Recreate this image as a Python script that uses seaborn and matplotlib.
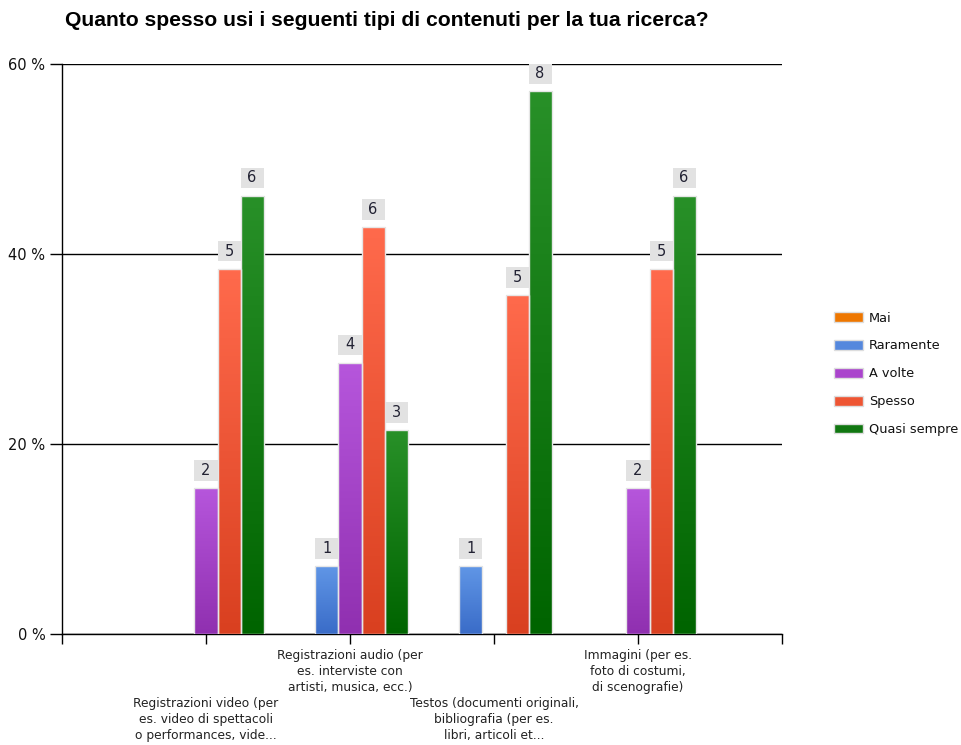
import numpy as np
import pandas as pd
import seaborn as sns
import matplotlib.pyplot as plt
from matplotlib.colors import LinearSegmentedColormap
from matplotlib.patches import Rectangle, Patch

# Data
categorie = [
    "Registrazioni video (per\nes. video di spettacoli\no performances, vide...",
    "Registrazioni audio (per\nes. interviste con\nartisti, musica, ecc.)",
    "Testos (documenti originali,\nbibliografia (per es.\nlibri, articoli et...",
    "Immagini (per es.\nfoto di costumi,\ndi scenografie)",
]
frequenze = ["Mai", "Raramente", "A volte", "Spesso", "Quasi sempre"]
mai = [0, 0, 0, 0]
raramente = [0, 1, 1, 0]
a_volte = [2, 4, 0, 2]
spesso = [5, 6, 5, 5]
quasi_sempre = [6, 3, 8, 6]

risposte = [mai, raramente, a_volte, spesso, quasi_sempre]
totali = [sum(r[j] for r in risposte) for j in range(len(categorie))]

rows = []
for f, vals in zip(frequenze, risposte):
    for j, c in enumerate(categorie):
        rows.append({"categoria": c, "frequenza": f, "n": vals[j],
                     "percentuale": vals[j] / totali[j] * 100})
df = pd.DataFrame(rows)

colori = ["#ee7700", "#5588dd", "#aa44cc", "#ee5533", "#117711"]
# gradient (top, bottom) per series
gradienti = [
    ("#ff9a30", "#dd6600"),
    ("#6096e6", "#3a6cc8"),
    ("#b656dc", "#9030b0"),
    ("#ff6a4c", "#d94020"),
    ("#289028", "#006400"),
]

sns.set_style("white")
plt.rcParams["font.family"] = ["DejaVu Sans"]

fig = plt.figure(figsize=(9.62, 7.45), dpi=100)
ax = fig.add_axes([62 / 962, 1 - 634 / 745, 720 / 962, 570 / 745])

sns.barplot(data=df, x="categoria", y="percentuale", hue="frequenza",
            hue_order=frequenze, palette=colori, errorbar=None, width=0.8,
            edgecolor="#e6e6e6", linewidth=1, legend=False, ax=ax, zorder=3)

ax.set_xlim(-1, 4)
ax.set_ylim(0, 60)

# gradients and value boxes
for i, cont in enumerate(ax.containers):
    cmap = LinearSegmentedColormap.from_list("g", [gradienti[i][1], gradienti[i][0]])
    for j, bar in enumerate(cont):
        h = bar.get_height()
        if h <= 0:
            bar.set_visible(False)
            continue
        x0 = bar.get_x()
        w = bar.get_width()
        grad = np.linspace(0, 1, 100).reshape(-1, 1)
        im = ax.imshow(grad, extent=[x0, x0 + w, 0, h], origin="lower",
                       aspect="auto", cmap=cmap, zorder=2.9)
        im.set_clip_path(bar)
        bar.set_facecolor("none")
        ax.add_patch(Rectangle((x0, h + 0.75), w, 2.2, facecolor="#e2e2e2",
                               edgecolor="none", zorder=4))
        ax.text(x0 + w / 2, h + 0.75 + 1.1, str(risposte[i][j]), ha="center",
                va="center", fontsize=10.5, color="#222233", zorder=5)

ax.set_xlim(-1, 4)
ax.set_ylim(0, 60)

# axes styling
ax.set_yticks([0, 20, 40, 60])
ax.set_yticklabels(["0 %", "20 %", "40 %", "60 %"], fontsize=10.5, color="#111111")
ax.yaxis.grid(True, color="#000000", linewidth=1)
ax.set_axisbelow(True)
ax.set_xticks([-1, 0, 1, 2, 3, 4])
ax.set_xticklabels([""] + categorie + [""], fontsize=8.8, color="#222222",
                   linespacing=1.3)
ax.tick_params(axis="x", length=7, width=1, color="#000000", direction="out",
               bottom=True, pad=3.5)
ax.tick_params(axis="y", length=9, width=1, color="#000000", direction="out",
               left=True, pad=3)
for k in (1, 3):
    ax.xaxis.get_major_ticks()[k].set_pad(38.5)
for s in ["top", "right"]:
    ax.spines[s].set_visible(False)
for s in ["left", "bottom"]:
    ax.spines[s].set_color("#000000")
    ax.spines[s].set_linewidth(1)
ax.set_xlabel("")
ax.set_ylabel("")

# legend
handles = [Patch(facecolor=c, edgecolor="#dddddd", label=f)
           for c, f in zip(colori, frequenze)]
fig.legend(handles=handles, loc="upper left",
           bbox_to_anchor=(822 / 962, 1 - 300 / 745), frameon=False,
           fontsize=9.3, handlelength=2.3, handleheight=0.8,
           handletextpad=0.45, labelspacing=1.15, labelcolor="#111111")

fig.text(65 / 962, 1 - 20 / 745,
         "Quanto spesso usi i seguenti tipi di contenuti per la tua ricerca?",
         fontsize=15.2, fontweight="bold", family="Liberation Sans",
         color="#000000", ha="left", va="center")

fig.savefig("out.png", dpi=100)
